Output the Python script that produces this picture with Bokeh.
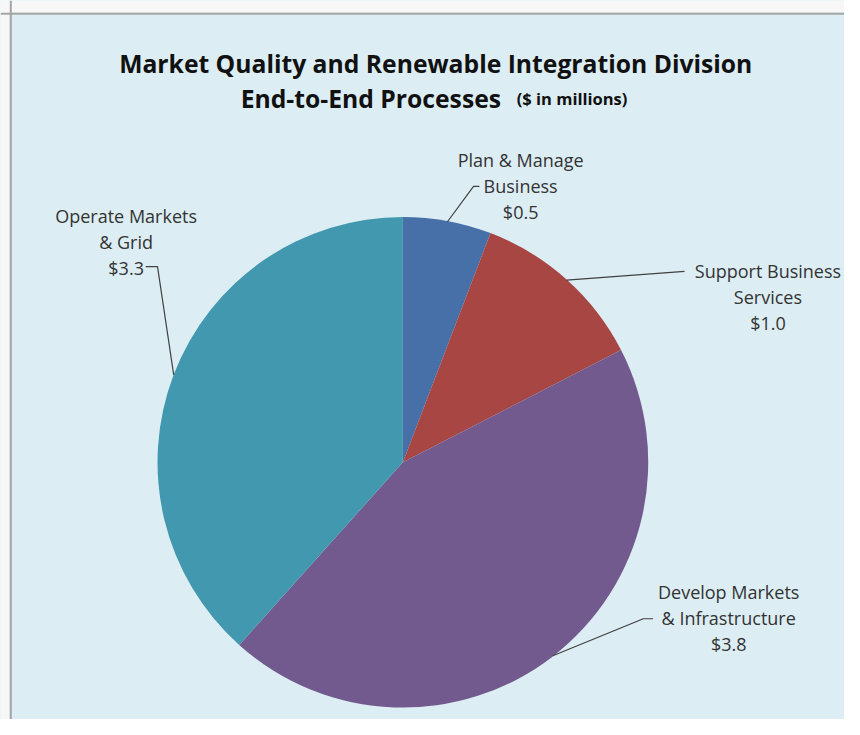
import math
from bokeh.plotting import figure
from bokeh.models import Range1d, Span, BoxAnnotation
from bokeh.core.properties import value
from bokeh.embed import file_html
from bokeh.resources import INLINE

# ---- data ----
categories = ["Plan & Manage Business", "Support Business Services",
              "Develop Markets & Infrastructure", "Operate Markets & Grid"]
values = [0.5, 1.0, 3.8, 3.3]
label_lines = [["Plan & Manage", "Business", "$0.5"],
               ["Support Business", "Services", "$1.0"],
               ["Develop Markets", "& Infrastructure", "$3.8"],
               ["Operate Markets", "& Grid", "$3.3"]]
colors = ["#4670A7", "#A84644", "#725A8F", "#4298AF"]

# ---- layout (reference-pixel coordinates, y measured downward) ----
W, H = 844, 719
CX, CY, R = 410, 472, 250
def Y(py):
    return 735 - py

# label centre x, first-line baseline, elbow point, end of horizontal
label_pos = [(530, 163, (482, 190), (488, 190)),
             (782, 277, (697, 277), (697, 277)),
             (742, 605, (655, 632), (665, 632)),
             (128, 220, (160, 272), (148, 272))]
LINE_H = 26.5
FONT = "Open Sans"

p = figure(width=W, height=H, output_backend="svg", toolbar_location=None,
           x_range=Range1d(0, 860), y_range=Range1d(0, 735),
           min_border_left=0, min_border_right=0, min_border_top=0, min_border_bottom=0)
p.axis.visible = False
p.grid.visible = False
p.outline_line_color = None
p.background_fill_color = "#DCEEF4"
p.border_fill_color = "#FAFAFA"

# outer white strips and panel border
p.add_layout(BoxAnnotation(bottom=Y(12), fill_color="#F7F7F7", fill_alpha=1, line_color=None))
p.add_layout(BoxAnnotation(right=9, fill_color="#F7F7F7", fill_alpha=1, line_color=None))
p.add_layout(Span(location=10.5, dimension="height", line_color="#A6A6A6", line_width=2))
p.add_layout(Span(location=Y(13.5), dimension="width", line_color="#A6A6A6", line_width=2))

total = sum(values)
start = math.pi / 2
starts, ends, mids = [], [], []
for v in values:
    a = v / total * 2 * math.pi
    starts.append(start)
    ends.append(start - a)
    mids.append(start - a / 2)
    start -= a

p.wedge(x=[CX] * 4, y=[Y(CY)] * 4, radius=R, start_angle=starts, end_angle=ends,
        direction="clock", fill_color=colors, line_color=None)

# leader lines
for m, (lx, ly, elbow, tail) in zip(mids, label_pos):
    ex = CX + R * math.cos(m)
    ey = Y(CY) + R * math.sin(m)
    p.line([ex, elbow[0], tail[0]], [ey, Y(elbow[1]), Y(tail[1])],
           line_color="#404040", line_width=1.2)

# labels
for lines, (lx, ly, _, _) in zip(label_lines, label_pos):
    p.text(x=[lx] * len(lines), y=[Y(ly + i * LINE_H) for i in range(len(lines))],
           text=lines, text_align="center", text_baseline="alphabetic",
           text_font=value(FONT), text_font_size="18px", text_color="#333333")

# title
p.text(x=[443.5], y=[Y(64)], text=["Market Quality and Renewable Integration Division"],
       text_align="center", text_baseline="alphabetic", text_font=value(FONT),
       text_font_size="24.7px", text_font_style="bold", text_color="#111111")
p.text(x=[510], y=[Y(100)], text=["End-to-End Processes"],
       text_align="right", text_baseline="alphabetic", text_font=value(FONT),
       text_font_size="24.7px", text_font_style="bold", text_color="#111111")
p.text(x=[526], y=[Y(100)], text=["($ in millions)"],
       text_align="left", text_baseline="alphabetic", text_font=value(FONT),
       text_font_size="16.5px", text_font_style="bold", text_color="#111111")

open("out.html", "w").write(file_html(p, INLINE))
